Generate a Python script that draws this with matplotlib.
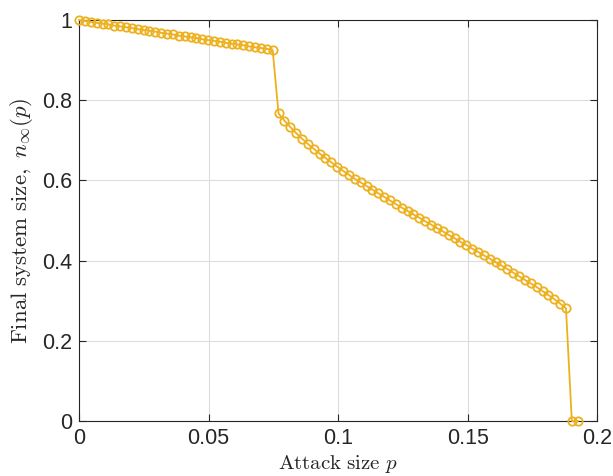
import numpy as np
import matplotlib.pyplot as plt

# attack sizes (evenly spaced samples) and final system size
p_step = 0.002265
n_points = 86
n_inf = [1.000, 0.998, 0.995, 0.993, 0.991, 0.989, 0.986, 0.984, 0.982, 0.980,
         0.977, 0.975, 0.973, 0.971, 0.968, 0.966, 0.964, 0.961, 0.959, 0.957,
         0.955, 0.952, 0.950, 0.948, 0.946, 0.943, 0.941, 0.939, 0.937, 0.934,
         0.932, 0.930, 0.928, 0.925,
         0.767, 0.749, 0.733, 0.718, 0.704, 0.691, 0.679, 0.667, 0.656, 0.645,
         0.634, 0.624, 0.614, 0.604, 0.595, 0.586, 0.577, 0.568, 0.559, 0.550,
         0.541, 0.532, 0.524, 0.515, 0.507, 0.498, 0.490, 0.481, 0.473, 0.464,
         0.456, 0.447, 0.439, 0.430, 0.422, 0.413, 0.405, 0.396, 0.388, 0.379,
         0.370, 0.361, 0.352, 0.343, 0.334, 0.324, 0.314, 0.304, 0.293, 0.281,
         0.0, 0.0]
p = np.arange(n_points) * p_step

xticks = [0, 0.05, 0.1, 0.15, 0.2]
xtick_labels = ['0', '0.05', '0.1', '0.15', '0.2']
yticks = [0, 0.2, 0.4, 0.6, 0.8, 1]
ytick_labels = ['0', '0.2', '0.4', '0.6', '0.8', '1']

plt.rcParams['mathtext.fontset'] = 'cm'
plt.rcParams['font.family'] = ['Liberation Sans', 'DejaVu Sans']

fig = plt.figure(figsize=(6.13, 4.76), dpi=100)
ax = fig.add_axes([0.129, 0.1155, 0.845, 0.8425])

ax.plot(p, n_inf, '-o', color='#EDB120', lw=1.3, markersize=6,
        markerfacecolor='none', markeredgewidth=1.3, clip_on=False, zorder=3)

ax.set_xlim(0, 0.2)
ax.set_ylim(0, 1)
ax.set_xticks(xticks)
ax.set_xticklabels(xtick_labels)
ax.set_yticks(yticks)
ax.set_yticklabels(ytick_labels)
ax.grid(True, color='#dcdcdc', lw=0.8)
ax.set_axisbelow(True)
ax.tick_params(direction='in', length=5, width=0.8, top=True, right=True,
               labelsize=15.5, colors='#262626', pad=5)
for s in ax.spines.values():
    s.set_color('#262626')
    s.set_linewidth(0.8)

ax.set_xlabel(r'$\mathrm{Attack\ size}\ p$', fontsize=15, color='#262626', labelpad=3)
ax.set_ylabel(r'$\mathrm{Final\ system\ size,}\ n_\infty(p)$', fontsize=16.5,
              color='#262626', labelpad=5)

fig.savefig('out.png', dpi=100)
